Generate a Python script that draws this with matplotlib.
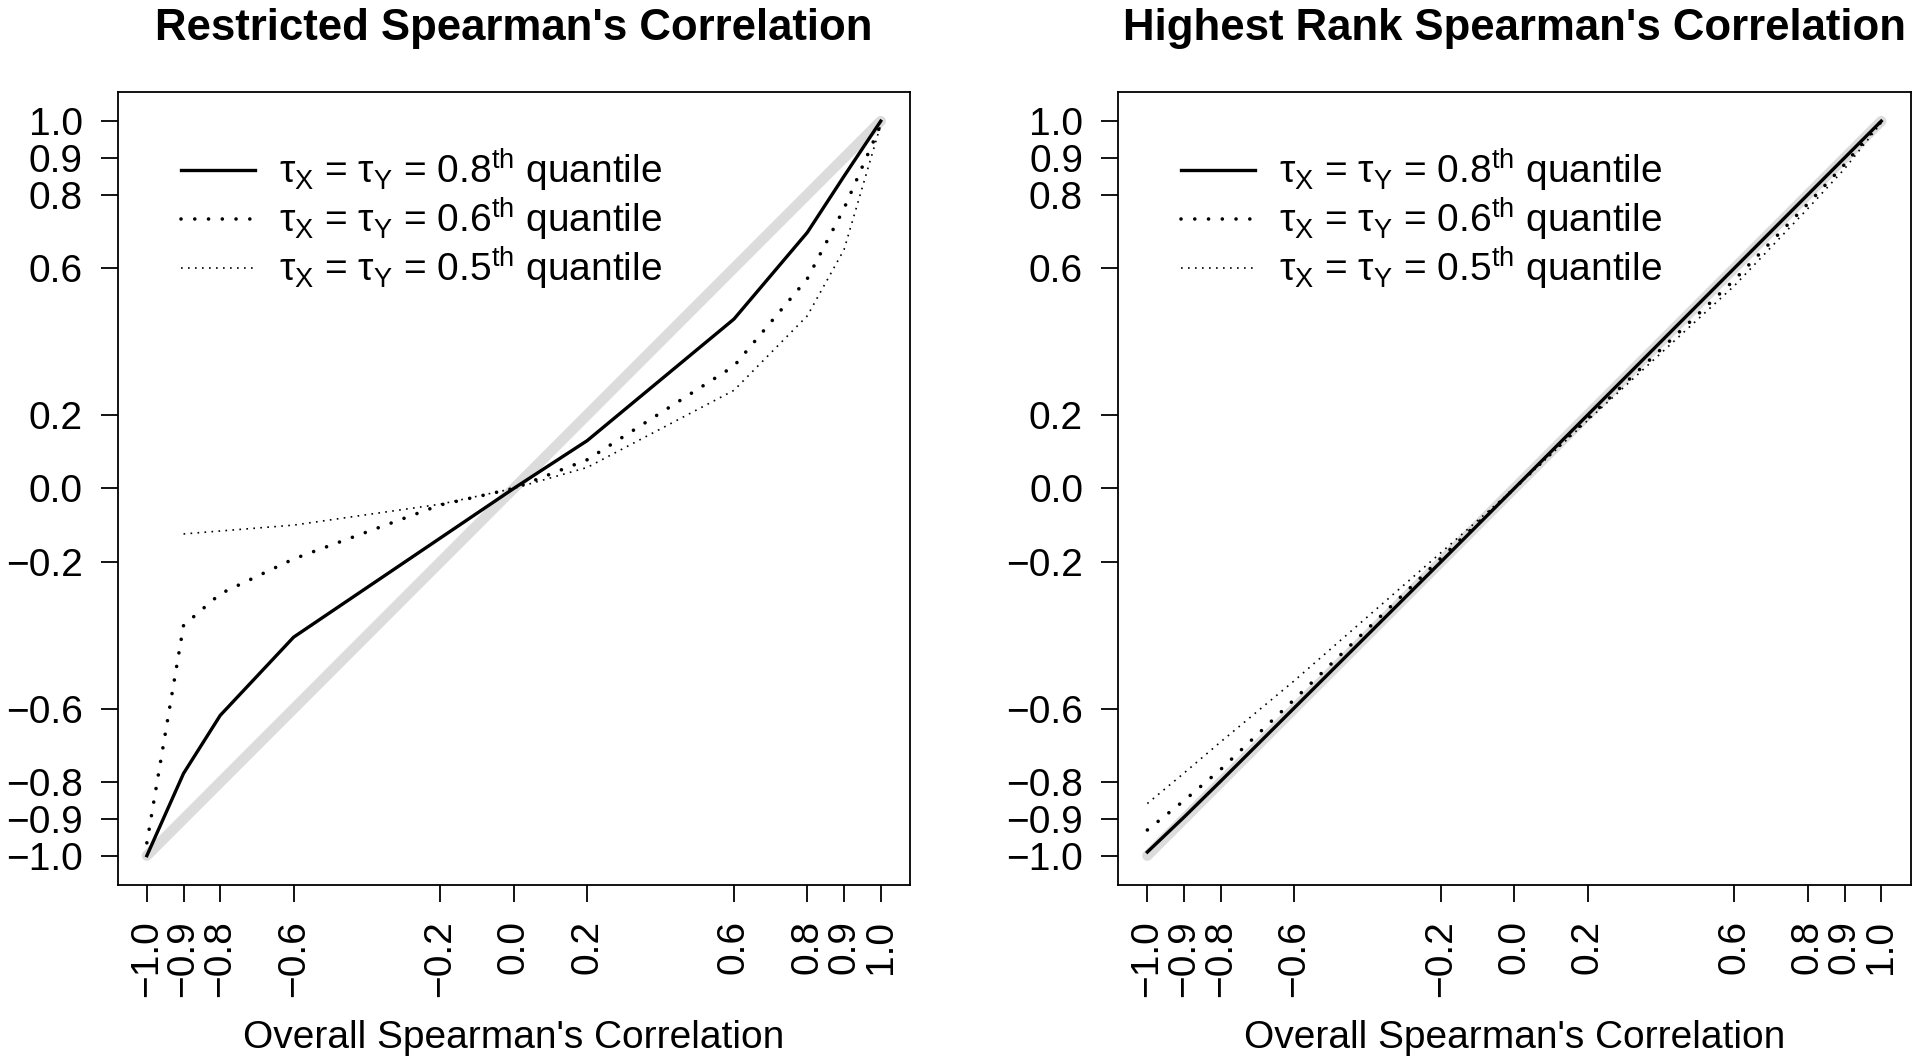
import numpy as np
import matplotlib
matplotlib.use("Agg")
import matplotlib.pyplot as plt

plt.rcParams['font.family'] = 'Liberation Sans'
plt.rcParams['mathtext.fontset'] = 'custom'
plt.rcParams['mathtext.rm'] = 'Liberation Sans'
plt.rcParams['mathtext.it'] = 'Liberation Sans'
plt.rcParams['mathtext.bf'] = 'Liberation Sans:bold'

# Overall Spearman's correlation (x values, also used as tick positions)
rho_overall = [-1.0, -0.9, -0.8, -0.6, -0.2, 0.0, 0.2, 0.6, 0.8, 0.9, 1.0]

# Restricted Spearman's correlation
restricted_q08 = [-1.0, -0.776, -0.618, -0.405, -0.135, 0.0, 0.13, 0.461, 0.697, 0.85, 1.0]
restricted_q06 = [-0.965, -0.373, -0.287, -0.192, -0.045, 0.0, 0.078, 0.333, 0.571, 0.762, 0.99]
restricted_q05 = [np.nan, -0.124, -0.116, -0.1, -0.043, 0.0, 0.057, 0.267, 0.47, 0.65, 0.99]

# Highest rank Spearman's correlation
highest_q08 = [-0.99, -0.895, -0.797, -0.598, -0.2, 0.0, 0.2, 0.6, 0.8, 0.9, 1.0]
highest_q06 = [-0.93, -0.85, -0.765, -0.575, -0.19, 0.0, 0.19, 0.568, 0.775, 0.882, 1.0]
highest_q05 = [-0.858, -0.775, -0.69, -0.524, -0.175, 0.0, 0.185, 0.552, 0.762, 0.87, 0.995]

diag = [-1.0, 1.0]

quantiles = ['0.8', '0.6', '0.5']
labels = [r'$\tau_X$ = $\tau_Y$ = ' + q + r'$^{th}$ quantile' for q in quantiles]

styles = [dict(lw=2.4, linestyle='-', solid_joinstyle='round'),
          dict(lw=2.6, linestyle=(0, (0.01, 3.8)), dash_capstyle='round'),
          dict(lw=1.2, linestyle=(0, (1, 3.2)), dash_capstyle='butt')]

tick_labels = [f"{v:.1f}".replace("-", "\u2212") for v in rho_overall]

fig = plt.figure(figsize=(19.2, 10.63), dpi=100)
ax1 = fig.add_axes([0.0612, 0.1674, 0.4128, 0.7463])
ax2 = fig.add_axes([0.5823, 0.1674, 0.4128, 0.7463])

panels = [
    (ax1, "Restricted Spearman's Correlation", [restricted_q08, restricted_q06, restricted_q05]),
    (ax2, "Highest Rank Spearman's Correlation", [highest_q08, highest_q06, highest_q05]),
]

for ax, title, series in panels:
    # reference line y = x
    ax.plot(diag, diag, color='#dcdcdc', lw=7.5, solid_capstyle='round', zorder=1)
    for y, lab, st in zip(series, labels, styles):
        ax.plot(rho_overall, y, color='black', label=lab, zorder=2, **st)

    ax.set_xlim(-1.08, 1.08)
    ax.set_ylim(-1.08, 1.08)
    ax.set_xticks(rho_overall)
    ax.set_xticklabels(tick_labels, rotation=90)
    ax.set_yticks(rho_overall)
    ax.set_yticklabels(tick_labels)
    ax.tick_params(length=12.2, width=1.3, pad=13, labelsize=28)
    for sp in ax.spines.values():
        sp.set_linewidth(1.3)

    ax.set_title(title, fontsize=31.5, fontweight='bold', pad=37)
    ax.set_xlabel("Overall Spearman's Correlation", fontsize=28)
    ax.xaxis.set_label_coords(0.5, -0.193)
    ax.xaxis.label.set_va('center')

    ax.legend(loc='upper left', bbox_to_anchor=(0.08, 0.93), frameon=False,
              fontsize=28, handlelength=1.9, handletextpad=0.62,
              labelspacing=0.04, borderpad=0, borderaxespad=0)

fig.savefig('out.png', dpi=100)
